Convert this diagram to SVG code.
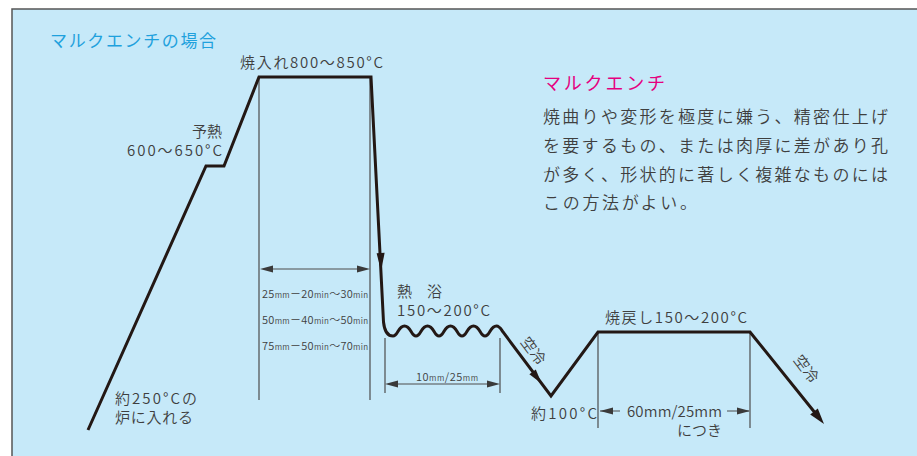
<svg xmlns="http://www.w3.org/2000/svg" width="917" height="456" viewBox="0 0 917 456">
<style>
text{font-family:"Noto Sans CJK JP","Noto Sans",sans-serif;fill:#3f3f3f;font-weight:350;}
.lbl{font-size:15px;}
.sm{font-size:11px;}
.u{font-size:8px;}
.thin{stroke:#4d4d4d;stroke-width:1.2;fill:none;}
.thick{stroke:#231815;stroke-width:3;fill:none;stroke-linejoin:miter;}
.ah{fill:#231815;}
.dh{fill:#3a3a3a;}
</style>
<rect x="0" y="0" width="917" height="456" fill="#ffffff"/>
<rect x="12" y="9" width="910" height="452" fill="#C6E9F9"/>
<path d="M12,456 L12,9 L917,9" fill="none" stroke="#555" stroke-width="1.5"/>

<g id="title">
<text x="50" y="47" style="font-size:17px;fill:#1FA1DD;font-weight:400" textLength="166">マルクエンチの場合</text>
</g>

<g id="description">
<text x="543" y="90" style="font-size:18px;fill:#E5007F;font-weight:400" textLength="122">マルクエンチ</text>
<text x="543" y="123" style="font-size:17px" textLength="345">焼曲りや変形を極度に嫌う、精密仕上げ</text>
<text x="543" y="152" style="font-size:17px" textLength="345">を要するもの、または肉厚に差があり孔</text>
<text x="543" y="181" style="font-size:17px" textLength="345">が多く、形状的に著しく複雑なものには</text>
<text x="543" y="209" style="font-size:17px" textLength="154">この方法がよい。</text>
</g>

<g id="connectors">
<path class="thin" d="M259,77 V400 M370,77 V400 M385,338 V393 M500,338 V393 M598,332 V428 M750,332 V428"/>
<path class="thin" d="M268,269 H362 M393,384 H492 M600,411 H620 M727,411 H749"/>
<polygon class="dh" points="260,269 273,265.5 273,272.5"/>
<polygon class="dh" points="370,269 357,265.5 357,272.5"/>
<polygon class="dh" points="385,384 398,380.5 398,387.5"/>
<polygon class="dh" points="500,384 487,380.5 487,387.5"/>
<polygon class="dh" points="600,411 613,407.5 613,414.5"/>
<polygon class="dh" points="750,411 737,407.5 737,414.5"/>
</g>

<g id="curve">
<path class="thick" d="M88,430 L206,166 L224,166 L259,77 L371,77 L383.5,322 Q385,336 393,336 C398,336 398,326 404.5,326 C411,326 411,336 416,336 C421,336 421,326 427.5,326 C434,326 434,336 439,336 C444,336 444,326 450.5,326 C457,326 457,336 462,336 C467,336 467,326 473.5,326 C480,326 480,336 485,336 C490,336 490,326 496.5,326 C499.5,326 501,329 503,332 L551,396 L598,332 L750,332 L816,414"/>
<polygon class="ah" points="381.1,271 384.6,252.8 376.6,253.2"/>
<polygon class="ah" points="541.6,383.6 535.8,369.5 529.4,374.3"/>
<polygon class="ah" points="824,424 817.8,408.4 810.2,414.6"/>
</g>

<g id="labels">
<text class="lbl" x="240" y="68" textLength="143">焼入れ800〜850°C</text>
<text class="lbl" x="222" y="137" text-anchor="end">予熱</text>
<text class="lbl" x="127" y="156" textLength="95">600〜650°C</text>
<text class="lbl" x="115" y="404" textLength="82">約250°Cの</text>
<text class="lbl" x="115" y="423" textLength="78">炉に入れる</text>
<text class="lbl" x="397" y="297">熱　浴</text>
<text class="lbl" x="397" y="316" textLength="93">150〜200°C</text>
<text class="lbl" x="605" y="323" textLength="142">焼戻し150〜200°C</text>
<text class="lbl" x="531" y="419" textLength="66">約100°C</text>
<text class="lbl" x="627" y="417" textLength="95">60mm/25mm</text>
<text class="lbl" x="677" y="436" textLength="45">につき</text>
<text x="262" y="298" class="sm" textLength="106">25<tspan class="u">mm</tspan>－20<tspan class="u">min</tspan>〜30<tspan class="u">min</tspan></text>
<text x="262" y="324" class="sm" textLength="106">50<tspan class="u">mm</tspan>－40<tspan class="u">min</tspan>〜50<tspan class="u">min</tspan></text>
<text x="262" y="350" class="sm" textLength="106">75<tspan class="u">mm</tspan>－50<tspan class="u">min</tspan>〜70<tspan class="u">min</tspan></text>
<text x="416" y="381" class="sm" textLength="62">10<tspan class="u">mm</tspan>/25<tspan class="u">mm</tspan></text>
<text x="0" y="0" style="font-size:15px" text-anchor="middle" transform="translate(529,354) rotate(53)">空冷</text>
<text x="0" y="0" style="font-size:15px" text-anchor="middle" transform="translate(802,372) rotate(53)">空冷</text>
</g>
</svg>
